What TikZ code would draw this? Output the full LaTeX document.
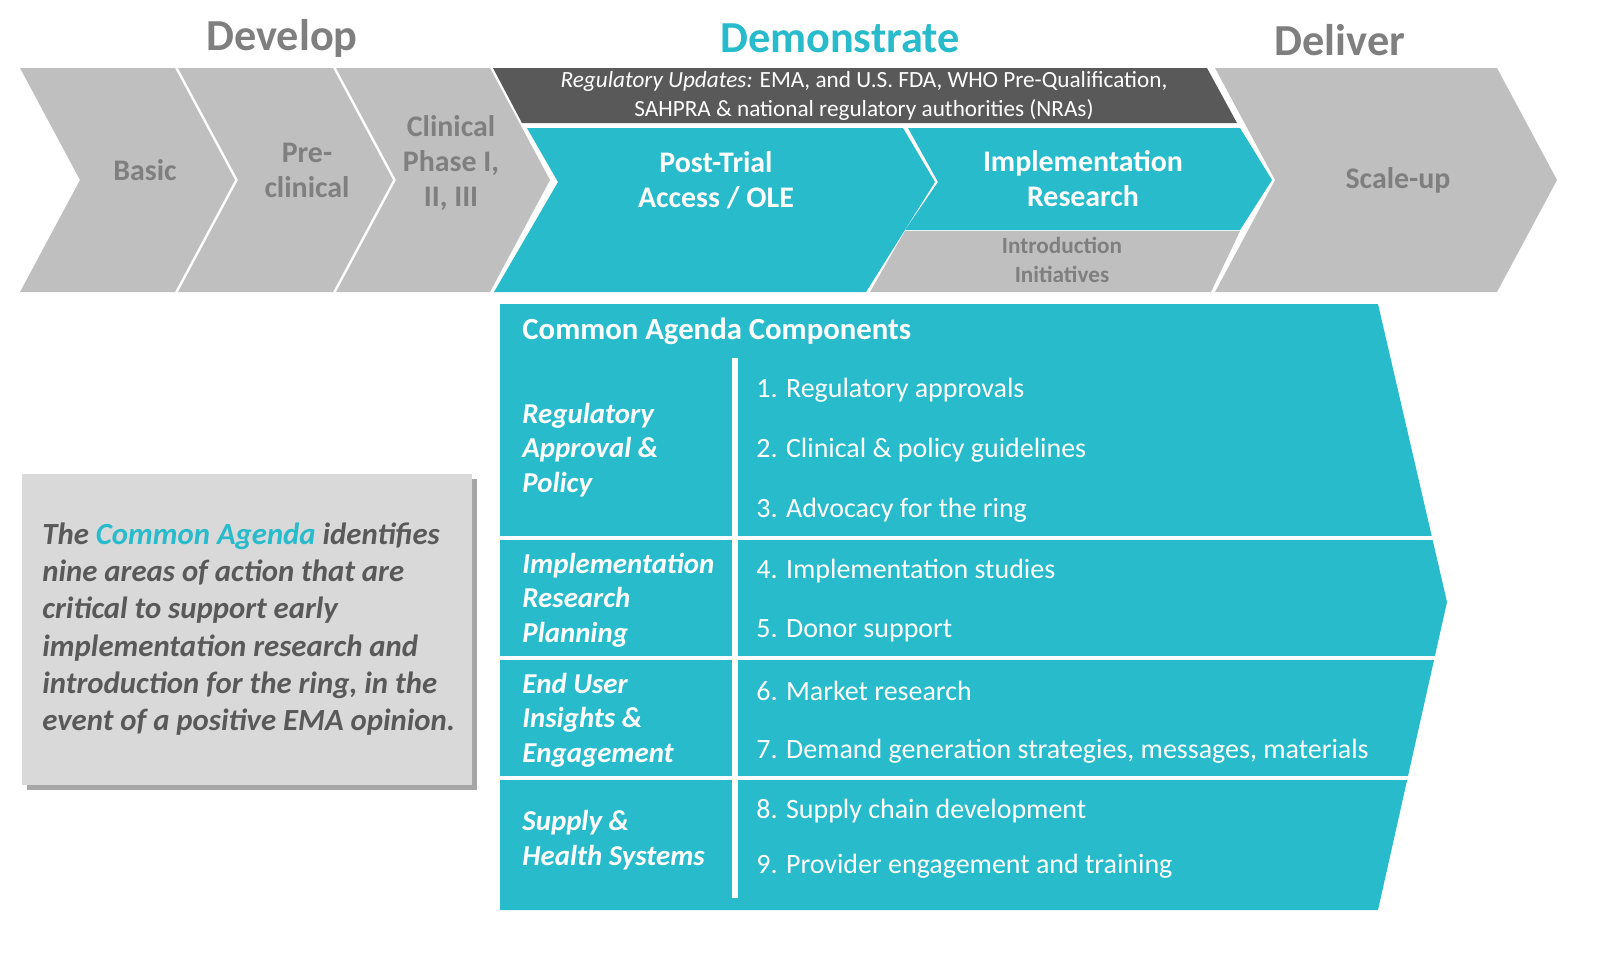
\documentclass[tikz,border=0pt]{standalone}
\usepackage{fontspec}
\setmainfont{Carlito}
\usepackage{tikz}
\definecolor{teal1}{HTML}{27BBCB}
\definecolor{grey1}{HTML}{BFBFBF}
\definecolor{grey2}{HTML}{595959}
\definecolor{grey3}{HTML}{7F7F7F}
\definecolor{grey4}{HTML}{D9D9D9}
\tikzset{
  phase/.style={font=\bfseries\fontsize{12.6}{13}\selectfont, text=grey3},
  steptext/.style={font=\bfseries\fontsize{8.5}{10}\selectfont, align=center},
  area/.style={font=\bfseries\itshape\fontsize{8.2}{9.8}\selectfont, text=white, align=left, anchor=west},
  item/.style={font=\fontsize{7.95}{9}\selectfont, text=white, anchor=west},
}
\begin{document}
\begin{tikzpicture}[x=0.01cm, y=-0.01cm]
    \useasboundingbox (0,0) rectangle (1597,957);
    % Phase headings
    \node[phase] (develop) at (282,38) {Develop};
    \node[phase, text=teal1] (demonstrate) at (840,38) {Demonstrate};
    \node[phase] (deliver) at (1340,40) {Deliver};

    % Develop chevrons
    \fill[grey1] (20,68) -- (175,68) -- (235,180) -- (175,292) -- (20,292) -- (80,180) -- cycle;
    \fill[grey1] (178,68) -- (333,68) -- (393,180) -- (333,292) -- (178,292) -- (238,180) -- cycle;
    \fill[grey1] (336,68) -- (490,68) -- (550,180) -- (490,292) -- (336,292) -- (396,180) -- cycle;
    \node[steptext, text=grey3] (basic) at (145,170) {Basic};
    \node[steptext, text=grey3] (preclin) at (307,170) {Pre-\\clinical};
    \node[steptext, text=grey3] (clin) at (451,163) {Clinical\\Phase I,\\II, III};

    % Demonstrate
    \fill[grey2] (493,68) -- (1207,68) -- (1237,123) -- (522,123) -- cycle;
    \node[font=\fontsize{6.6}{8.4}\selectfont, text=white, align=center] (regup) at (864,96)
        {\textit{Regulatory Updates:} EMA, and U.S. FDA, WHO Pre-Qualification,\\SAHPRA \& national regulatory authorities (NRAs)};
    \fill[teal1] (527,128) -- (903,128) -- (935,182) -- (866,292) -- (494,292) -- (558,182) -- cycle;
    \fill[teal1] (908,128) -- (1240,128) -- (1272,180) -- (1240,230) -- (905,230) -- (938,182) -- cycle;
    \fill[grey1] (905,231) -- (1240,231) -- (1211,292) -- (870,292) -- cycle;
    \node[steptext, text=white] (ptaccess) at (716,180) {Post-Trial\\Access / OLE};
    \node[steptext, text=white] (implres) at (1083,179) {Implementation\\Research};
    \node[font=\bfseries\fontsize{6.6}{8.3}\selectfont, text=grey3, align=center] (intro) at (1062,260) {Introduction\\Initiatives};

    % Deliver
    \fill[grey1] (1215,68) -- (1497,68) -- (1557,180) -- (1497,292) -- (1215,292) -- (1275,180) -- cycle;
    \node[steptext, text=grey3] (scaleup) at (1398,180) {Scale-up};

    % Common agenda chevron
    \fill[teal1] (500,304) -- (1378,304) -- (1447,602) -- (1378,910) -- (500,910) -- cycle;
    \foreach \y in {538, 658, 778}
        \draw[white, line width=1.2pt] (500,\y) -- (1460,\y);
    \draw[white, line width=1.6pt] (735,358) -- (735,898);
    \node[font=\bfseries\fontsize{8.75}{10}\selectfont, text=white, anchor=west] (cac) at (510,331) {Common Agenda Components};

    \node[area] (regpol) at (510,450) {Regulatory\\Approval \&\\Policy};
    \node[area] (irplan) at (510,600) {Implementation\\Research\\Planning};
    \node[area] (enduser) at (510,720) {End User\\Insights \&\\Engagement};
    \node[area] (supply) at (510,840) {Supply \&\\Health Systems};

    \node[item] (i1) at (744,390) {1. Regulatory approvals};
    \node[item] (i2) at (744,450) {2. Clinical \& policy guidelines};
    \node[item] (i3) at (744,510) {3. Advocacy for the ring};
    \node[item] (i4) at (744,571) {4. Implementation studies};
    \node[item] (i5) at (744,631) {5. Donor support};
    \node[item] (i6) at (744,691) {6. Market research};
    \node[item] (i7) at (744,751) {7. Demand generation strategies, messages, materials};
    \node[item] (i8) at (744,811) {8. Supply chain development};
    \node[item] (i9) at (744,866) {9. Provider engagement and training};

    % Summary box
    \fill[black!35] (27,479) rectangle (477,790);
    \fill[grey4] (22,474) rectangle (472,785);
    \node[font=\bfseries\itshape\fontsize{8.75}{10.6}\selectfont, text=grey2, align=left, anchor=west] (summary) at (30,629)
        {The \textcolor{teal1}{Common Agenda} identifies\\nine areas of action that are\\critical to support early\\implementation research and\\introduction for the ring, in the\\event of a positive EMA opinion.};
\end{tikzpicture}
\end{document}
